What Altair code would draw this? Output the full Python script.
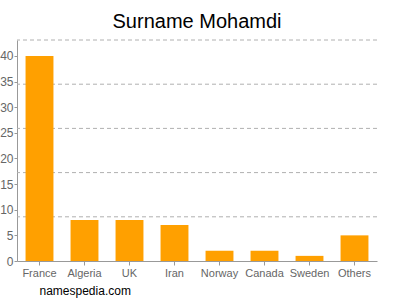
import altair as alt
import pandas as pd

countries = ["France", "Algeria", "UK", "Iran", "Norway", "Canada", "Sweden", "Others"]
counts = [40, 8, 8, 7, 2, 2, 1, 5]
y_ticks = [0, 5, 10, 15, 20, 25, 30, 35, 40]
grid_lines = [8.62, 17.24, 25.86, 34.48, 43.1]
y_max = 43.1

df = pd.DataFrame({"country": countries, "count": counts})
gdf = pd.DataFrame({"g": grid_lines})

FONT = "Liberation Sans"

yscale = alt.Scale(domain=[0, y_max], nice=False, zero=True)

grid = alt.Chart(gdf).mark_rule(
    color="#b0b0b0", strokeDash=[4, 3], strokeWidth=1
).encode(y=alt.Y("g:Q", scale=yscale, axis=None))

bars = alt.Chart(df).mark_bar(color="#ffa000").encode(
    x=alt.X(
        "country:N",
        sort=countries,
        scale=alt.Scale(paddingInner=0.38, paddingOuter=0.19),
        axis=alt.Axis(
            title="namespedia.com",
            titleX=22,
            titleY=33,
            titleAlign="left",
            titleAnchor="start",
            titleBaseline="alphabetic",
            titleColor="#000000",
            titleFont=FONT,
            titleFontSize=12,
            titleFontWeight="normal",
            labelAngle=0,
            labelFont=FONT,
            labelFontSize=11,
            labelColor="#666666",
            labelPadding=2,
            tickSize=4,
            tickColor="#999999",
            domainColor="#999999",
            grid=False,
        ),
    ),
    y=alt.Y(
        "count:Q",
        scale=yscale,
        axis=alt.Axis(
            title=None,
            values=y_ticks,
            grid=False,
            labelFont=FONT,
            labelFontSize=12,
            labelColor="#666666",
            labelPadding=1,
            tickSize=3,
            tickColor="#999999",
            domainColor="#999999",
        ),
    ),
)

chart = alt.layer(grid, bars).resolve_axis(y="independent").properties(
    width=360,
    height=221,
    autosize=alt.AutoSizeParams(type="none"),
    padding={"left": 17, "top": 40, "right": 23, "bottom": 39},
    title=alt.TitleParams(
        "Surname Mohamdi",
        font=FONT,
        fontSize=20,
        fontWeight="normal",
        color="#000000",
        anchor="middle",
        offset=8,
    ),
).configure_view(stroke=None)

chart.save("out.html", embed_options={"renderer": "svg", "actions": False})
